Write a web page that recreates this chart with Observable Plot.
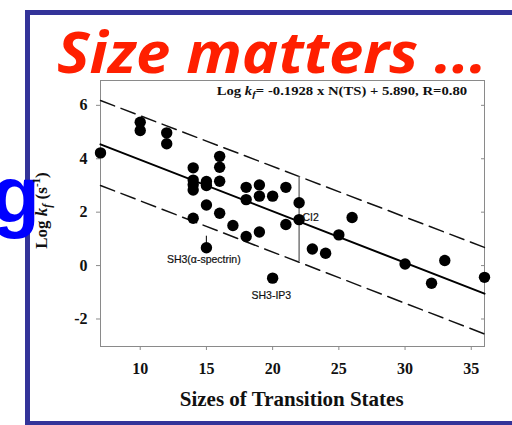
<!DOCTYPE html>
<html>
<head>
<meta charset="utf-8">
<script src="https://cdn.jsdelivr.net/npm/d3@7"></script>
<script src="https://cdn.jsdelivr.net/npm/@observablehq/plot@0.6"></script>
<style>
  html, body { margin: 0; padding: 0; background: #fff; }
  #wrap { position: relative; width: 512px; height: 425px; overflow: hidden; }
</style>
</head>
<body>
<div id="wrap"></div>
<script>
// ---- data ----
const sizes  = [7, 10, 10, 12, 12, 14, 14, 14, 14, 14, 15, 15, 15, 15, 16, 16, 16, 16, 17, 18, 18, 18, 19, 19, 19, 20, 20, 21, 21, 22, 22, 23, 24, 25, 26, 30, 32, 33, 36];
const logKf  = [4.22, 5.37, 5.06, 4.97, 4.56, 3.66, 3.2, 3.03, 2.83, 1.77, 3.15, 3.0, 2.27, 0.67, 4.09, 3.68, 3.16, 1.96, 1.5, 2.93, 2.47, 1.09, 3.02, 2.6, 1.26, 2.6, -0.47, 2.93, 1.54, 2.35, 1.72, 0.62, 0.46, 1.15, 1.8, 0.06, -0.66, 0.19, -0.44];
const xTicks = [10, 15, 20, 25, 30, 35];
const yTicks = [-2, 0, 2, 4, 6];
const slope = -0.1928, intercept = 5.890;
const fitRange = [7, 36];
const bandX = [7, 36];
const upperBand = [6.18, 0.68];
const lowerBand = [3.0, -2.56];
const ci2Rule = {x: 22, y1: 3.33, y2: 0.15};
const stemRule = {x: 15, y1: 1.1, y2: 0.72};
const labelNames = ["SH3(\u03b1-spectrin)", "SH3-IP3", "CI2"];
const labelX = [14.8, 19.9, 22.25];
const labelY = [0.22, -1.12, 1.78];
const labelSide = ["middle", "middle", "start"];

const points = sizes.map((s, i) => ({x: s, y: logKf[i]}));
const fit = fitRange.map(x => ({x, y: slope * x + intercept}));
const upper = bandX.map((x, i) => ({x, y: upperBand[i]}));
const lower = bandX.map((x, i) => ({x, y: lowerBand[i]}));
const labels = labelNames.map((t, i) => ({t, x: labelX[i], y: labelY[i], side: labelSide[i]}));

const labelFont = "'Liberation Sans', Arial, sans-serif";

const chart = Plot.plot({
  width: 512, height: 425,
  marginLeft: 100, marginRight: 28, marginTop: 80, marginBottom: 79,
  style: {background: "none", fontFamily: "'Liberation Serif', 'Times New Roman', serif", fontSize: "16px", fontWeight: "bold", color: "#111"},
  x: {domain: [7, 36]},
  y: {domain: [-3.03, 6.93]},
  marks: [
    Plot.frame({stroke: "#8a8a8a", strokeWidth: 1}),
    Plot.axisX({ticks: xTicks, tickSize: 4, tickPadding: 12, label: null, stroke: "#8a8a8a", tickFormat: d => String(d)}),
    Plot.axisY({ticks: yTicks, tickSize: 4, tickPadding: 9, label: null, stroke: "#8a8a8a", tickFormat: d => String(d)}),
    Plot.axisY({anchor: "right", ticks: yTicks, tickSize: -4, tickFormat: () => "", label: null, stroke: "#8a8a8a"}),
    Plot.line(upper, {x: "x", y: "y", stroke: "#111", strokeWidth: 1.5, strokeDasharray: "15,7"}),
    Plot.line(lower, {x: "x", y: "y", stroke: "#111", strokeWidth: 1.5, strokeDasharray: "15,7"}),
    Plot.line(fit, {x: "x", y: "y", stroke: "#000", strokeWidth: 2}),
    Plot.ruleX([ci2Rule], {x: "x", y1: "y1", y2: "y2", stroke: "#777", strokeWidth: 1.5}),
    Plot.ruleX([stemRule], {x: "x", y1: "y1", y2: "y2", stroke: "#222", strokeWidth: 1.2}),
    Plot.dot(points, {x: "x", y: "y", r: 5.7, fill: "#000", stroke: "none"}),
    Plot.text(labels.filter(d => d.side === "middle"), {x: "x", y: "y", text: "t", textAnchor: "middle", fontFamily: labelFont, fontSize: 10.5, fontWeight: "normal", fill: "#111", stroke: "#111", strokeWidth: 0.2}),
    Plot.text(labels.filter(d => d.side === "start"), {x: "x", y: "y", text: "t", textAnchor: "start", fontFamily: labelFont, fontSize: 10.5, fontWeight: "normal", fill: "#111", stroke: "#111", strokeWidth: 0.2})
  ]
});

const svg = d3.select(chart);

// slide frame
svg.insert("rect", ":first-child").attr("x", 25).attr("y", 10).attr("width", 520).attr("height", 5).attr("fill", "#333399");
svg.insert("rect", ":first-child").attr("x", 25).attr("y", 10).attr("width", 5).attr("height", 420).attr("fill", "#333399");
svg.insert("rect", ":first-child").attr("x", 25).attr("y", 421).attr("width", 520).attr("height", 6).attr("fill", "#333399");

// blue letter from the slide behind
svg.append("text").attr("x", -9).attr("y", 222).attr("text-anchor", "start")
  .attr("font-family", labelFont).attr("font-weight", "bold")
  .attr("font-size", 80).attr("fill", "#0000ff").text("g");

// title
svg.append("text").attr("transform", "translate(57,72.7) scale(1.08,1)").attr("text-anchor", "start")
  .attr("font-family", "'Open Sans', sans-serif").attr("font-weight", "bold").attr("font-style", "italic")
  .attr("font-size", 57).attr("fill", "#ff1f00").text("Size matters ...");

// equation
const eq = svg.append("text").attr("transform", "translate(216.7,94.5) scale(1.28,1)").attr("text-anchor", "start")
  .attr("font-family", "'Liberation Serif', serif").attr("font-weight", "bold").attr("font-size", 11.5).attr("fill", "#111");
eq.append("tspan").text("Log ");
eq.append("tspan").attr("font-style", "italic").text("k");
eq.append("tspan").attr("font-style", "italic").attr("font-size", 8.5).attr("dy", 2.5).text("f");
eq.append("tspan").attr("dy", -2.5).text("= -0.1928 x N(TS) + 5.890, R=0.80");

// y label
const yl = svg.append("text").attr("transform", "translate(47.3,210.5) rotate(-90)").attr("text-anchor", "middle")
  .attr("font-family", "'Liberation Serif', serif").attr("font-weight", "bold").attr("font-size", 17).attr("fill", "#111");
yl.append("tspan").text("Log ");
yl.append("tspan").attr("font-style", "italic").text("k");
yl.append("tspan").attr("font-style", "italic").attr("font-size", 12).attr("dy", 4).text("f");
yl.append("tspan").attr("dy", -4).text(" (s");
yl.append("tspan").attr("font-size", 11).attr("dy", -7).text("-1");
yl.append("tspan").attr("dy", 7).text(")");

// x label
svg.append("text").attr("x", 291.7).attr("y", 406).attr("text-anchor", "middle")
  .attr("font-family", "'Liberation Serif', serif").attr("font-weight", "bold").attr("font-size", 21).attr("fill", "#111")
  .text("Sizes of Transition States");

document.getElementById("wrap").appendChild(chart);
</script>
</body>
</html>
